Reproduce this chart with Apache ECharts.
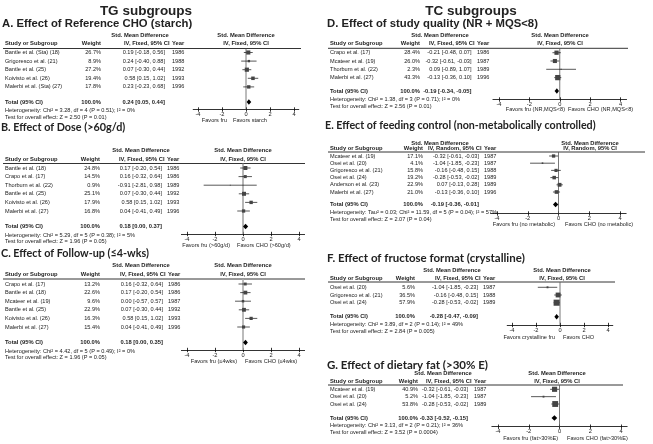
<!DOCTYPE html>
<html><head><meta charset="utf-8">
<script src="https://cdn.jsdelivr.net/npm/echarts@6/dist/echarts.min.js"></script>
<style>html,body{margin:0;padding:0;background:#fff}#c{width:653px;height:444px}</style>
</head><body><div id="c"></div>
<script>
// ---------------- DATA ----------------
const AXIS_TICKS = [-4, -2, 0, 2, 4];
const SUPER_TITLES = ["TG subgroups", "TC subgroups"];

const A_title = "A. Effect of Reference CHO (starch)";
const A_method = "IV, Fixed, 95% CI";
const A_studies = ["Bantle et al. (Sta) (18)", "Grigoresco et al. (21)", "Bantle et al. (25)", "Koivisto et al. (26)", "Malerbi et al. (Sta) (27)"];
const A_weights = [26.7, 8.9, 27.2, 19.4, 17.8];
const A_smd = [0.19, 0.24, 0.07, 0.58, 0.23];
const A_lo = [-0.18, -0.40, -0.30, 0.15, -0.23];
const A_hi = [0.56, 0.88, 0.44, 1.02, 0.68];
const A_years = [1986, 1988, 1992, 1993, 1996];
const A_total = [0.24, 0.05, 0.44];
const A_het = "Heterogeneity: Chi² = 3.28, df = 4 (P = 0.51); I² = 0%";
const A_test = "Test for overall effect: Z = 2.50 (P = 0.01)";
const A_favors = ["Favors fru", "Favors starch"];

const B_title = "B. Effect of Dose (>60g/d)";
const B_method = "IV, Fixed, 95% CI";
const B_studies = ["Bantle et al. (18)", "Crapo et al. (17)", "Thorburn et al. (22)", "Bantle et al. (25)", "Koivisto et al. (26)", "Malerbi et al. (27)"];
const B_weights = [24.8, 14.5, 0.9, 25.1, 17.9, 16.8];
const B_smd = [0.17, 0.16, -0.91, 0.07, 0.58, 0.04];
const B_lo = [-0.20, -0.32, -2.81, -0.30, 0.15, -0.41];
const B_hi = [0.54, 0.64, 0.98, 0.44, 1.02, 0.49];
const B_years = [1986, 1986, 1989, 1992, 1993, 1996];
const B_total = [0.18, 0.00, 0.37];
const B_het = "Heterogeneity: Chi² = 5.29, df = 5 (P = 0.38); I² = 5%";
const B_test = "Test for overall effect: Z = 1.96 (P = 0.05)";
const B_favors = ["Favors fru (>60g/d)", "Favors CHO (>60g/d)"];

const C_title = "C. Effect of Follow-up (≤4-wks)";
const C_method = "IV, Fixed, 95% CI";
const C_studies = ["Crapo et al. (17)", "Bantle et al. (18)", "Mcateer et al. (19)", "Bantle et al. (25)", "Koivisto et al. (26)", "Malerbi et al. (27)"];
const C_weights = [13.2, 22.6, 9.6, 22.9, 16.3, 15.4];
const C_smd = [0.16, 0.17, 0.00, 0.07, 0.58, 0.04];
const C_lo = [-0.32, -0.20, -0.57, -0.30, 0.15, -0.41];
const C_hi = [0.64, 0.54, 0.57, 0.44, 1.02, 0.49];
const C_years = [1986, 1986, 1987, 1992, 1993, 1996];
const C_total = [0.18, 0.00, 0.35];
const C_het = "Heterogeneity: Chi² = 4.42, df = 5 (P = 0.49); I² = 0%";
const C_test = "Test for overall effect: Z = 1.96 (P = 0.05)";
const C_favors = ["Favors fru (≤4wks)", "Favors CHO (≤4wks)"];

const D_title = "D. Effect of study quality (NR + MQS<8)";
const D_method = "IV, Fixed, 95% CI";
const D_studies = ["Crapo et al. (17)", "Mcateer et al. (19)", "Thorburn et al. (22)", "Malerbi et al. (27)"];
const D_weights = [28.4, 26.0, 2.3, 43.3];
const D_smd = [-0.21, -0.32, 0.09, -0.13];
const D_lo = [-0.48, -0.61, -0.89, -0.36];
const D_hi = [0.07, -0.03, 1.07, 0.10];
const D_years = [1986, 1987, 1989, 1996];
const D_total = [-0.19, -0.34, -0.05];
const D_het = "Heterogeneity: Chi² = 1.38, df = 3 (P = 0.71); I² = 0%";
const D_test = "Test for overall effect: Z = 2.56 (P = 0.01)";
const D_favors = ["Favors fru (NR,MQS<8)", "Favors CHO (NR,MQS<8)"];

const E_title = "E. Effect of feeding control (non-metabolically controlled)";
const E_method = "IV, Random, 95% CI";
const E_studies = ["Mcateer et al. (19)", "Osei et al. (20)", "Grigoresco et al. (21)", "Osei et al. (24)", "Anderson et al. (23)", "Malerbi et al. (27)"];
const E_weights = [17.1, 4.1, 15.8, 19.2, 22.9, 21.0];
const E_smd = [-0.32, -1.04, -0.16, -0.28, 0.07, -0.13];
const E_lo = [-0.61, -1.85, -0.48, -0.53, -0.13, -0.36];
const E_hi = [-0.03, -0.23, 0.15, -0.02, 0.28, 0.10];
const E_years = [1987, 1987, 1988, 1989, 1989, 1996];
const E_total = [-0.19, -0.36, -0.01];
const E_het = "Heterogeneity: Tau² = 0.03; Chi² = 11.59, df = 5 (P = 0.04); I² = 57%";
const E_test = "Test for overall effect: Z = 2.07 (P = 0.04)";
const E_favors = ["Favors fru (no metabolic)", "Favors CHO (no metabolic)"];

const F_title = "F. Effect of fructose format (crystalline)";
const F_method = "IV, Fixed, 95% CI";
const F_studies = ["Osei et al. (20)", "Grigoresco et al. (21)", "Osei et al. (24)"];
const F_weights = [5.6, 36.5, 57.9];
const F_smd = [-1.04, -0.16, -0.28];
const F_lo = [-1.85, -0.48, -0.53];
const F_hi = [-0.23, 0.15, -0.02];
const F_years = [1987, 1988, 1989];
const F_total = [-0.28, -0.47, -0.09];
const F_het = "Heterogeneity: Chi² = 3.89, df = 2 (P = 0.14); I² = 49%";
const F_test = "Test for overall effect: Z = 2.84 (P = 0.005)";
const F_favors = ["Favors crystalline fru", "Favors CHO"];

const G_title = "G. Effect of dietary fat (>30% E)";
const G_method = "IV, Fixed, 95% CI";
const G_studies = ["Mcateer et al. (19)", "Osei et al. (20)", "Osei et al. (24)"];
const G_weights = [40.9, 5.2, 53.8];
const G_smd = [-0.32, -1.04, -0.28];
const G_lo = [-0.61, -1.85, -0.53];
const G_hi = [-0.03, -0.23, -0.02];
const G_years = [1987, 1987, 1989];
const G_total = [-0.33, -0.52, -0.15];
const G_het = "Heterogeneity: Chi² = 3.13, df = 2 (P = 0.21); I² = 36%";
const G_test = "Test for overall effect: Z = 3.52 (P = 0.0004)";
const G_favors = ["Favors fru (fat>30%E)", "Favors CHO (fat>30%E)"];

// ---------------- LAYOUT (pixels) ----------------
const LAYOUT = {
  A: {tf:'arial', ts:11.3, titleX:2, titleY:24, smdY:35.5, hdrY:43.5, lineY:48.5, lineX1:3, lineX2:301, row0:52.5, step:8.6, totalY:102, hetY:110.5, testY:117, axisY:109.5, xm4:198, xp4:294, studyX:5, wR:101, ciR:165, yearL:172, smdC:140, plotC:246, favL:227, favR:233, favY:120.5, zc:'#555', zw:0.8},
  B: {tf:'cal', ts:10.8, titleX:1, titleY:128, smdY:150.5, hdrY:159, lineY:163.5, lineX1:3, lineX2:305, row0:168, step:8.6, totalY:226.5, hetY:235, testY:241.5, axisY:234, xm4:187, xp4:299, studyX:5, wR:100, ciR:162, yearL:167, smdC:141, plotC:243, favL:230, favR:237, favY:245, zc:'#999', zw:1.4},
  C: {tf:'cal', ts:10.8, titleX:1, titleY:254, smdY:265.5, hdrY:274, lineY:279, lineX1:3, lineX2:305, row0:284, step:8.6, totalY:342.5, hetY:351, testY:357.5, axisY:350, xm4:187, xp4:299, studyX:5, wR:100, ciR:163, yearL:168, smdC:141, plotC:243, favL:237, favR:245, favY:361, zc:'#aaa', zw:1.6},
  D: {tf:'arial', ts:11.3, titleX:327, titleY:24, smdY:35.5, hdrY:43.3, lineY:48.3, lineX1:328, lineX2:628, row0:52.7, step:8.3, totalY:91, hetY:99.5, testY:106, axisY:99.5, xm4:499, xp4:620.5, studyX:330, wR:420, ciR:471.5, yearL:477, smdC:440, plotC:560, favL:565, favR:568, favY:109.5, zc:'#555', zw:0.8},
  E: {tf:'cal', ts:10.7, titleX:325, titleY:126, smdY:143, hdrY:148.5, lineY:152, lineX1:328, lineX2:645, row0:156, step:7.2, totalY:204.5, hetY:212, testY:219, axisY:213.5, xm4:497, xp4:620, studyX:330, wR:423, ciR:479, yearL:484, smdC:440, plotC:590, favL:555, favR:565, favY:224, zc:'#555', zw:0.8},
  F: {tf:'cal', ts:11.5, titleX:327, titleY:258, smdY:270, hdrY:278, lineY:282, lineX1:328, lineX2:615, row0:287.3, step:7.7, totalY:316.7, hetY:324, testY:331, axisY:325, xm4:512, xp4:608, studyX:330, wR:415, ciR:478, yearL:483, smdC:452, plotC:562, favL:555, favR:563, favY:337.5, zc:'#555', zw:0.8},
  G: {tf:'cal', ts:11.5, titleX:327, titleY:365, smdY:373.3, hdrY:381.7, lineY:385, lineX1:328, lineX2:623, row0:389.3, step:7.35, totalY:418, hetY:425.7, testY:432.7, axisY:426.7, xm4:498, xp4:621, studyX:330, wR:418, ciR:468, yearL:474, smdC:443, plotC:557, favL:558, favR:567, favY:438.3, zc:'#555', zw:0.8}
};
const SUPER_POS = [[146, 11.5], [471, 11.5]];

const PANELS = [
  {k:'A', title:A_title, method:A_method, studies:A_studies, weights:A_weights, smd:A_smd, lo:A_lo, hi:A_hi, years:A_years, total:A_total, het:A_het, test:A_test, favors:A_favors},
  {k:'B', title:B_title, method:B_method, studies:B_studies, weights:B_weights, smd:B_smd, lo:B_lo, hi:B_hi, years:B_years, total:B_total, het:B_het, test:B_test, favors:B_favors},
  {k:'C', title:C_title, method:C_method, studies:C_studies, weights:C_weights, smd:C_smd, lo:C_lo, hi:C_hi, years:C_years, total:C_total, het:C_het, test:C_test, favors:C_favors},
  {k:'D', title:D_title, method:D_method, studies:D_studies, weights:D_weights, smd:D_smd, lo:D_lo, hi:D_hi, years:D_years, total:D_total, het:D_het, test:D_test, favors:D_favors},
  {k:'E', title:E_title, method:E_method, studies:E_studies, weights:E_weights, smd:E_smd, lo:E_lo, hi:E_hi, years:E_years, total:E_total, het:E_het, test:E_test, favors:E_favors},
  {k:'F', title:F_title, method:F_method, studies:F_studies, weights:F_weights, smd:F_smd, lo:F_lo, hi:F_hi, years:F_years, total:F_total, het:F_het, test:F_test, favors:F_favors},
  {k:'G', title:G_title, method:G_method, studies:G_studies, weights:G_weights, smd:G_smd, lo:G_lo, hi:G_hi, years:G_years, total:G_total, het:G_het, test:G_test, favors:G_favors}
];

// ---------------- RENDER ----------------
const ARIAL = '"Liberation Sans", Arial, sans-serif';
const CAL = 'Lato, "Open Sans", sans-serif';
const BODY = '5.6px ' + ARIAL;
const BOLD = 'bold 5.8px ' + ARIAL;
const TXT = '#222';

function fmt(v){ return v.toFixed(2); }
function ci(m, l, h){ return fmt(m) + ' [' + fmt(l) + ', ' + fmt(h) + ']'; }

const graphic = [];
function T(x, y, text, font, align){
  graphic.push({type:'text', silent:true, x:x, y:y,
    style:{text:text, font:font, fill:TXT, align:align||'left', verticalAlign:'middle', textAlign:align||'left', textVerticalAlign:'middle'}});
}
function HL(x1, x2, y){
  graphic.push({type:'line', silent:true, shape:{x1:x1, y1:y, x2:x2, y2:y}, style:{stroke:'#000', lineWidth:0.8}});
}

SUPER_TITLES.forEach((s, i) => T(SUPER_POS[i][0], SUPER_POS[i][1], s, 'bold 13.5px ' + ARIAL, 'center'));

const grids = [], xAxes = [], yAxes = [], series = [];

function renderStudy(params, api){
  const m = api.value(0), lo = api.value(1), hi = api.value(2), r = api.value(3), w = api.value(4);
  const p1 = api.coord([lo, r]), p2 = api.coord([hi, r]), c = api.coord([m, r]);
  const s = Math.max(0.9, 0.8 * Math.sqrt(w));
  return {type:'group', children:[
    {type:'line', shape:{x1:p1[0], y1:p1[1], x2:p2[0], y2:p2[1]}, style:{stroke:'#111', lineWidth:0.7}},
    {type:'rect', shape:{x:c[0]-s/2, y:c[1]-s/2, width:s, height:s}, style:{fill:'#444'}}
  ]};
}
function renderTotal(params, api){
  const m = api.value(0), lo = api.value(1), hi = api.value(2), r = api.value(3);
  const a = api.coord([lo, r]), b = api.coord([m, r]), c = api.coord([hi, r]);
  const h = 2.8;
  return {type:'polygon', shape:{points:[[a[0], a[1]], [b[0], b[1]-h], [c[0], c[1]], [b[0], b[1]+h]]}, style:{fill:'#000'}};
}

PANELS.forEach((p, gi) => {
  const L = LAYOUT[p.k];
  const n = p.studies.length;
  const tfont = 'bold ' + L.ts + 'px ' + (L.tf === 'arial' ? ARIAL : CAL);
  T(L.titleX, L.titleY, p.title, tfont, 'left');
  T(L.smdC, L.smdY, 'Std. Mean Difference', BOLD, 'center');
  T(L.plotC, L.smdY, 'Std. Mean Difference', BOLD, 'center');
  T(L.studyX, L.hdrY, 'Study or Subgroup', BOLD, 'left');
  T(L.wR, L.hdrY, 'Weight', BOLD, 'right');
  T(L.yearL - 2.5, L.hdrY, p.method, BOLD, 'right');
  T(L.yearL, L.hdrY, 'Year', BOLD, 'left');
  T(L.plotC, L.hdrY, p.method, BOLD, 'center');
  HL(L.lineX1, L.lineX2, L.lineY);
  for (let i = 0; i < n; i++){
    const y = L.row0 + i * L.step;
    T(L.studyX, y, p.studies[i], BODY, 'left');
    T(L.wR, y, p.weights[i].toFixed(1) + '%', BODY, 'right');
    T(L.ciR, y, ci(p.smd[i], p.lo[i], p.hi[i]), BODY, 'right');
    T(L.yearL, y, String(p.years[i]), BODY, 'left');
  }
  T(L.studyX, L.totalY, 'Total (95% CI)', BOLD, 'left');
  T(L.wR, L.totalY, '100.0%', BOLD, 'right');
  T(L.ciR, L.totalY, ci(p.total[0], p.total[1], p.total[2]), BOLD, 'right');
  T(L.studyX, L.hetY, p.het, BODY, 'left');
  T(L.studyX, L.testY, p.test, BODY, 'left');
  T(L.favL, L.favY, p.favors[0], BODY, 'right');
  T(L.favR, L.favY, p.favors[1], BODY, 'left');

  const u = (L.xp4 - L.xm4) / 8;
  grids.push({left:L.xm4 - 0.4*u, top:L.lineY, width:8.8*u, height:L.axisY - L.lineY, containLabel:false, outerBoundsMode:'none'});
  const ymin = (L.lineY - L.row0) / L.step, ymax = (L.axisY - L.row0) / L.step;
  const totalRow = (L.totalY - L.row0) / L.step;
  const xi = xAxes.length;
  xAxes.push({gridIndex:gi, type:'value', min:-4.4, max:4.4, position:'bottom',
    axisLine:{show:true, onZero:false, lineStyle:{color:'#000', width:0.8}},
    axisTick:{show:true, length:2.2, customValues:AXIS_TICKS, lineStyle:{color:'#000', width:0.8}},
    axisLabel:{show:true, customValues:AXIS_TICKS, fontSize:5.7, fontFamily:ARIAL, color:TXT, margin:2},
    splitLine:{show:false}});
  xAxes.push({gridIndex:gi, type:'value', min:-4.4, max:4.4, position:'bottom',
    axisLine:{show:false, onZero:false},
    axisTick:{show:true, inside:true, length:2.2, customValues:AXIS_TICKS, lineStyle:{color:'#000', width:0.8}},
    axisLabel:{show:false}, splitLine:{show:false}});
  const yi = yAxes.length;
  yAxes.push({gridIndex:gi, type:'value', inverse:true, min:ymin, max:ymax, show:false, splitLine:{show:false}});

  series.push({type:'line', xAxisIndex:xi, yAxisIndex:yi, data:[[0, ymin], [0, ymax]], showSymbol:false, symbol:'none', silent:true,
    lineStyle:{color:L.zc, width:L.zw}, z:1});
  series.push({type:'custom', xAxisIndex:xi, yAxisIndex:yi, clip:false, silent:true, z:3,
    data:p.smd.map((m, i) => [m, p.lo[i], p.hi[i], i, p.weights[i]]), renderItem:renderStudy});
  series.push({type:'custom', xAxisIndex:xi, yAxisIndex:yi, clip:false, silent:true, z:3,
    data:[[p.total[0], p.total[1], p.total[2], totalRow]], renderItem:renderTotal});
});

const chart = echarts.init(document.getElementById('c'), null, {renderer:'canvas'});
chart.setOption({backgroundColor:'#fff', animation:false, grid:grids, xAxis:xAxes, yAxis:yAxes, series:series, graphic:graphic});
</script>
</body></html>
